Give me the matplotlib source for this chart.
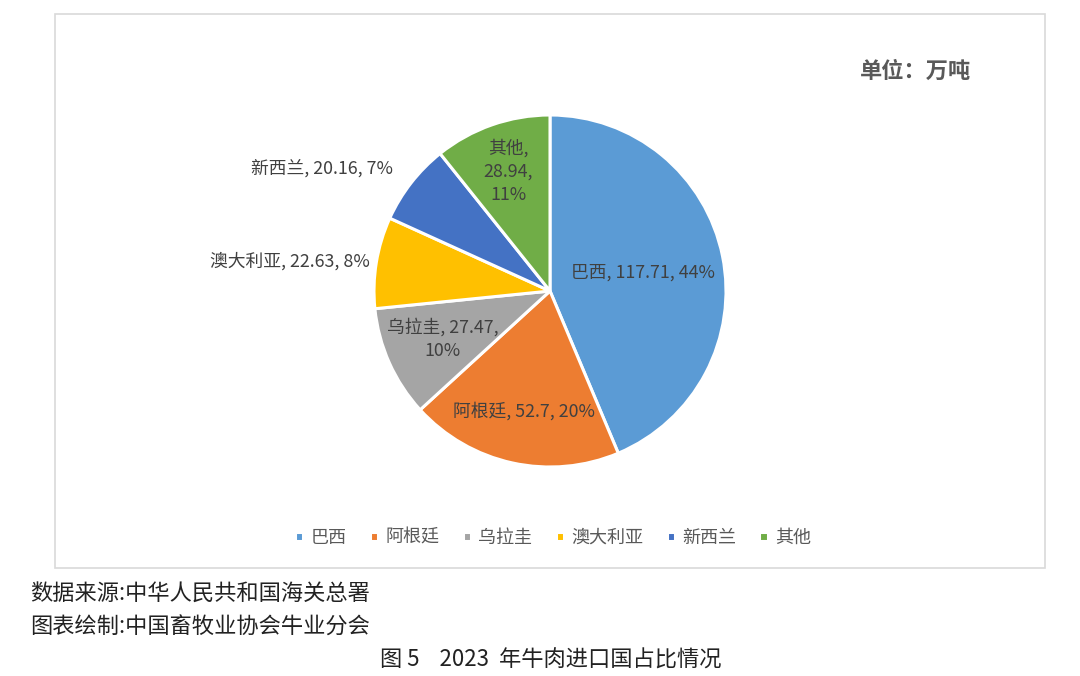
import matplotlib
matplotlib.use("Agg")
import matplotlib.pyplot as plt
from matplotlib.patches import Rectangle
import numpy as np

plt.rcParams["font.family"] = ["Noto Sans CJK SC", "DejaVu Sans"]

# data
countries = ["巴西", "阿根廷", "乌拉圭", "澳大利亚", "新西兰", "其他"]
volumes = [117.71, 52.7, 27.47, 22.63, 20.16, 28.94]
colors = ["#5B9BD5", "#ED7D31", "#A5A5A5", "#FFC000", "#4472C4", "#70AD47"]
unit_text = "单位：万吨"
source_text = "数据来源:中华人民共和国海关总署"
maker_text = "图表绘制:中国畜牧业协会牛业分会"
caption = "图 5    2023  年牛肉进口国占比情况"

# label layout: radial distance, alignment, line breaks
label_r = [0.54, 0.70, 0.67, 1.04, 1.13, 0.72]
label_ha = ["center", "center", "center", "right", "right", "center"]
label_sep = [(", ", ", "), (", ", ", "), (", ", ",\n"), (", ", ", "), (", ", ", "), (",\n", ",\n")]

W, H = 1080, 676
fig = plt.figure(figsize=(W / 100, H / 100), dpi=100)

# chart border
fig.patches.append(Rectangle((55 / W, 1 - 568 / H), 990 / W, 554 / H, transform=fig.transFigure,
                             facecolor="none", edgecolor="#D9D9D9", linewidth=1.2))

cx, cy, rad = 550, 291, 176
ax = fig.add_axes([(cx - rad) / W, 1 - (cy + rad) / H, 2 * rad / W, 2 * rad / H])
wedges, _ = ax.pie(volumes, colors=colors, startangle=90, counterclock=False,
                   wedgeprops=dict(edgecolor="white", linewidth=2.2))
ax.set_xlim(-1, 1)
ax.set_ylim(-1, 1)
ax.set_aspect("equal")
ax.axis("off")

total = sum(volumes)
for w, name, v, r, ha, sep in zip(wedges, countries, volumes, label_r, label_ha, label_sep):
    mid = np.deg2rad((w.theta1 + w.theta2) / 2)
    pct = round(v / total * 100)
    txt = f"{name}{sep[0]}{v:g}{sep[1]}{pct}%"
    ax.text(r * np.cos(mid), r * np.sin(mid), txt, ha=ha, va="center", fontsize=12.8,
            color="#404040", multialignment="center", linespacing=1.38)

fig.text(916 / W, 1 - 71 / H, unit_text, ha="center", va="center", fontsize=16,
         fontweight="bold", color="#595959")

fig.legend(wedges, countries, loc="center", bbox_to_anchor=(553 / W, 1 - 538 / H), ncol=6,
           frameon=False, fontsize=13, handlelength=0.45, handleheight=0.45, handletextpad=0.4,
           columnspacing=1.3, labelcolor="#595959")

fig.text(30 / W, 1 - 593 / H, source_text, ha="left", va="center", fontsize=16, color="#222222")
fig.text(30 / W, 1 - 627 / H, maker_text, ha="left", va="center", fontsize=16, color="#222222")
fig.text(551 / W, 1 - 660 / H, caption, ha="center", va="center", fontsize=16, color="#222222")

fig.savefig("out.png", dpi=100, facecolor="white")
